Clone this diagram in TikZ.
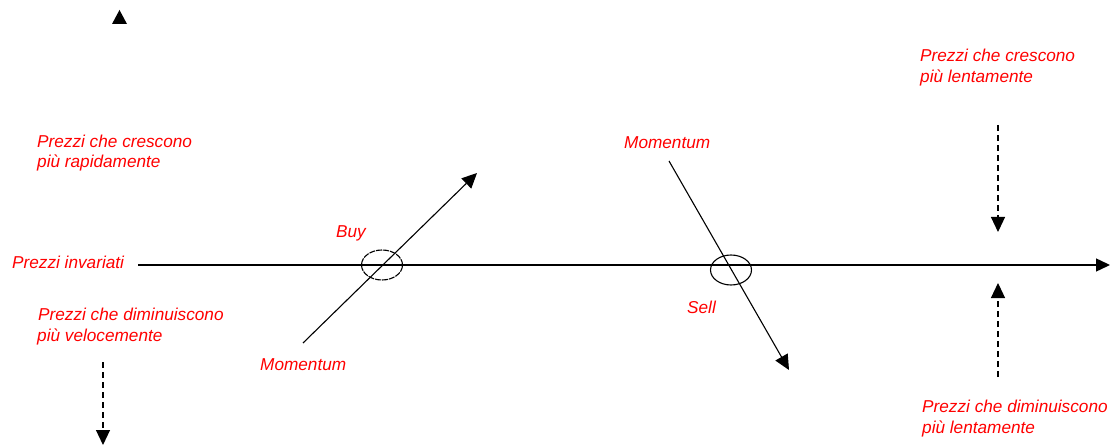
\documentclass[tikz,border=0pt]{standalone}
\usepackage{fontspec}
\setmainfont{Liberation Sans}
\usetikzlibrary{arrows.meta,shapes.geometric}
\begin{document}
\begin{tikzpicture}[x=1pt,y=-1pt,
  lbl/.style={text=red,font=\fontsize{17.2}{20}\selectfont\itshape,anchor=base west,inner sep=0pt,align=left},
  axisline/.style={line width=1.4pt,-{Triangle[length=14pt,width=13pt]}},
  momline/.style={line width=1.1pt,-{Triangle[length=15pt,width=14pt]}},
  dashedarrow/.style={line width=1.2pt,dash pattern=on 6pt off 4pt,-{Triangle[length=15pt,width=14pt]}},
  ring/.style={draw,ellipse,line width=1.1pt,minimum width=41pt,minimum height=30pt,inner sep=0pt}]
\useasboundingbox (0,0) rectangle (1110,446);
\fill[black] (112,24) -- (127,24) -- (119.5,10) -- cycle;
% texts
\node[lbl] (up1) at (37,148) {Prezzi che crescono};
\node[lbl] (up1b) at (37,168) {più rapidamente};
\node[lbl] (inv) at (12,269) {Prezzi invariati};
\node[lbl] (dn1) at (38,320) {Prezzi che diminuiscono};
\node[lbl] (dn1b) at (37,341) {più velocemente};
\node[lbl] (up2) at (920,62) {Prezzi che crescono};
\node[lbl] (up2b) at (920,83) {più lentamente};
\node[lbl] (dn2) at (922,412) {Prezzi che diminuiscono};
\node[lbl] (dn2b) at (922,433) {più lentamente};
\node[lbl] (buy) at (336,237) {Buy};
\node[lbl] (mom1) at (260,370) {Momentum};
\node[lbl] (mom2) at (624,149) {Momentum};
\node[lbl] (sell) at (687,313) {Sell};
% axis
\coordinate (a0) at (138,265);
\coordinate (a1) at (1110,265);
\draw[axisline] (a0) -- (a1);
% buy
\node[ring,dash pattern=on 6pt off 1pt] (rb) at (382,265) {};
\coordinate (b0) at (303,343);
\coordinate (b1) at (477,173);
\draw[momline] (b0) -- (b1);
% sell
\node[ring] (rs) at (731,270) {};
\coordinate (s0) at (669,161);
\coordinate (s1) at (789,370);
\draw[momline] (s0) -- (s1);
% dashed arrows
\coordinate (d0) at (103,362);
\coordinate (d1) at (103,445);
\draw[dashedarrow] (d0) -- (d1);
\coordinate (e0) at (998,125);
\coordinate (e1) at (998,232);
\draw[dashedarrow] (e0) -- (e1);
\coordinate (f0) at (998,377);
\coordinate (f1) at (998,283);
\draw[dashedarrow] (f0) -- (f1);
\end{tikzpicture}
\end{document}
